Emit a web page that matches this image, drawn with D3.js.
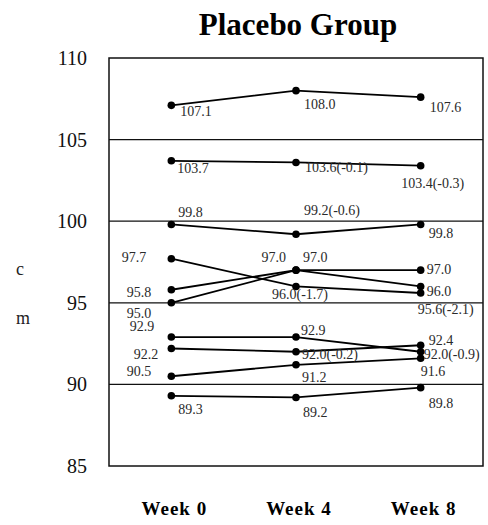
<!DOCTYPE html>
<html>
<head>
<meta charset="utf-8">
<script src="https://cdn.jsdelivr.net/npm/d3@7"></script>
<style>
  body { margin: 0; background: #fff; }
  svg { display: block; font-family: "Liberation Serif", "DejaVu Serif", serif; }
</style>
</head>
<body>
<div id="chart"></div>
<script>
// data
const weeks = ["Week 0", "Week 4", "Week 8"];
const yTicks = [85, 90, 95, 100, 105, 110];

const series1 = [107.1, 108.0, 107.6];
const series2 = [103.7, 103.6, 103.4];
const series3 = [99.8, 99.2, 99.8];
const series4 = [97.7, 96.0, 95.6];
const series5 = [95.8, 97.0, 96.0];
const series6 = [95.0, 97.0, 97.0];
const series7 = [92.9, 92.9, 92.0];
const series8 = [92.2, 92.0, 92.4];
const series9 = [90.5, 91.2, 91.6];
const series10 = [89.3, 89.2, 89.8];

const labels1 = ["107.1", "108.0", "107.6"];
const labels2 = ["103.7", "103.6(-0.1)", "103.4(-0.3)"];
const labels3 = ["99.8", "99.2(-0.6)", "99.8"];
const labels4 = ["97.7", "96.0(-1.7)", "95.6(-2.1)"];
const labels5 = ["95.8", "97.0", "96.0"];
const labels6 = ["95.0", "97.0", "97.0"];
const labels7 = ["92.9", "92.9", "92.0(-0.9)"];
const labels8 = ["92.2", "92.0(-0.2)", "92.4"];
const labels9 = ["90.5", "91.2", "91.6"];
const labels10 = ["89.3", "89.2", "89.8"];

const allSeries = [series1, series2, series3, series4, series5, series6, series7, series8, series9, series10];
const allLabels = [labels1, labels2, labels3, labels4, labels5, labels6, labels7, labels8, labels9, labels10];

// label placement relative to each point: [anchor, dx, dy]
const labelPos = [
  [["start", 9, 11], ["start", 8, 18], ["start", 9, 15]],
  [["start", 6, 12], ["start", 9, 10], ["middle", 12, 22]],
  [["start", 7, -7], ["start", 8, -19], ["start", 8, 14]],
  [["end", -25, 3], ["middle", 4, 13], ["middle", 25, 21]],
  [["end", -20, 7], ["end", -10, -8], ["start", 6, 10]],
  [["end", -20, 15], ["start", 7, -8], ["start", 6, 4]],
  [["end", -17, -6], ["start", 5, -2], ["start", 3, 7]],
  [["end", -13, 11], ["start", 6, 7], ["start", 8, 0]],
  [["end", -20, 0], ["start", 6, 17], ["start", 0, 18]],
  [["start", 7, 18], ["start", 7, 20], ["start", 8, 20]]
];

const width = 488, height = 525;
const box = { left: 109, right: 483, top: 58, bottom: 466 };

const svg = d3.select("#chart").append("svg")
  .attr("width", width)
  .attr("height", height);

const x = d3.scalePoint()
  .domain(weeks)
  .range([box.left, box.right])
  .padding(0.5);

const y = d3.scaleLinear()
  .domain([85, 110])
  .range([box.bottom, box.top]);

// title
svg.append("text")
  .attr("x", 298)
  .attr("y", 35)
  .attr("text-anchor", "middle")
  .style("font-size", "31px")
  .style("font-weight", "bold")
  .text("Placebo Group");

// horizontal grid lines
svg.append("g")
  .selectAll("line")
  .data(yTicks.filter(t => t > 85 && t < 110))
  .join("line")
  .attr("x1", box.left)
  .attr("x2", box.right)
  .attr("y1", d => y(d))
  .attr("y2", d => y(d))
  .attr("stroke", "#111")
  .attr("stroke-width", 1.3);

// plot frame
svg.append("rect")
  .attr("x", box.left)
  .attr("y", box.top)
  .attr("width", box.right - box.left)
  .attr("height", box.bottom - box.top)
  .attr("fill", "none")
  .attr("stroke", "#111")
  .attr("stroke-width", 1.5);

// y axis labels
const yAxis = svg.append("g")
  .attr("transform", `translate(${box.left},0)`)
  .call(d3.axisLeft(y).tickValues(yTicks).tickSize(0).tickPadding(22));
yAxis.select(".domain").remove();
yAxis.selectAll("text")
  .attr("fill", "#111")
  .style("font-family", "'Liberation Serif', serif")
  .style("font-size", "20px");

// y axis title, letters stacked
svg.append("text").attr("x", 16).attr("y", 275).style("font-size", "18px").attr("fill", "#222").text("c");
svg.append("text").attr("x", 16).attr("y", 324).style("font-size", "18px").attr("fill", "#222").text("m");

// x labels
svg.append("g")
  .selectAll("text")
  .data(weeks)
  .join("text")
  .attr("x", d => x(d) + 3)
  .attr("y", 515)
  .attr("text-anchor", "middle")
  .style("font-size", "19px")
  .style("font-weight", "bold")
  .style("letter-spacing", "1px")
  .text(d => d);

// lines
const line = d3.line()
  .x((d, i) => x(weeks[i]))
  .y(d => y(d));

svg.append("g")
  .selectAll("path")
  .data(allSeries)
  .join("path")
  .attr("d", line)
  .attr("fill", "none")
  .attr("stroke", "#000")
  .attr("stroke-width", 1.8);

// points and labels
allSeries.forEach((s, si) => {
  const g = svg.append("g");
  g.selectAll("circle")
    .data(s)
    .join("circle")
    .attr("cx", (d, i) => x(weeks[i]))
    .attr("cy", d => y(d))
    .attr("r", 3.8)
    .attr("fill", "#000");

  g.selectAll("text")
    .data(s)
    .join("text")
    .attr("x", (d, i) => x(weeks[i]) + labelPos[si][i][1])
    .attr("y", (d, i) => y(d) + labelPos[si][i][2])
    .attr("text-anchor", (d, i) => labelPos[si][i][0])
    .attr("fill", "#2a2a2a")
    .style("font-size", "14px")
    .text((d, i) => allLabels[si][i]);
});
</script>
</body>
</html>
